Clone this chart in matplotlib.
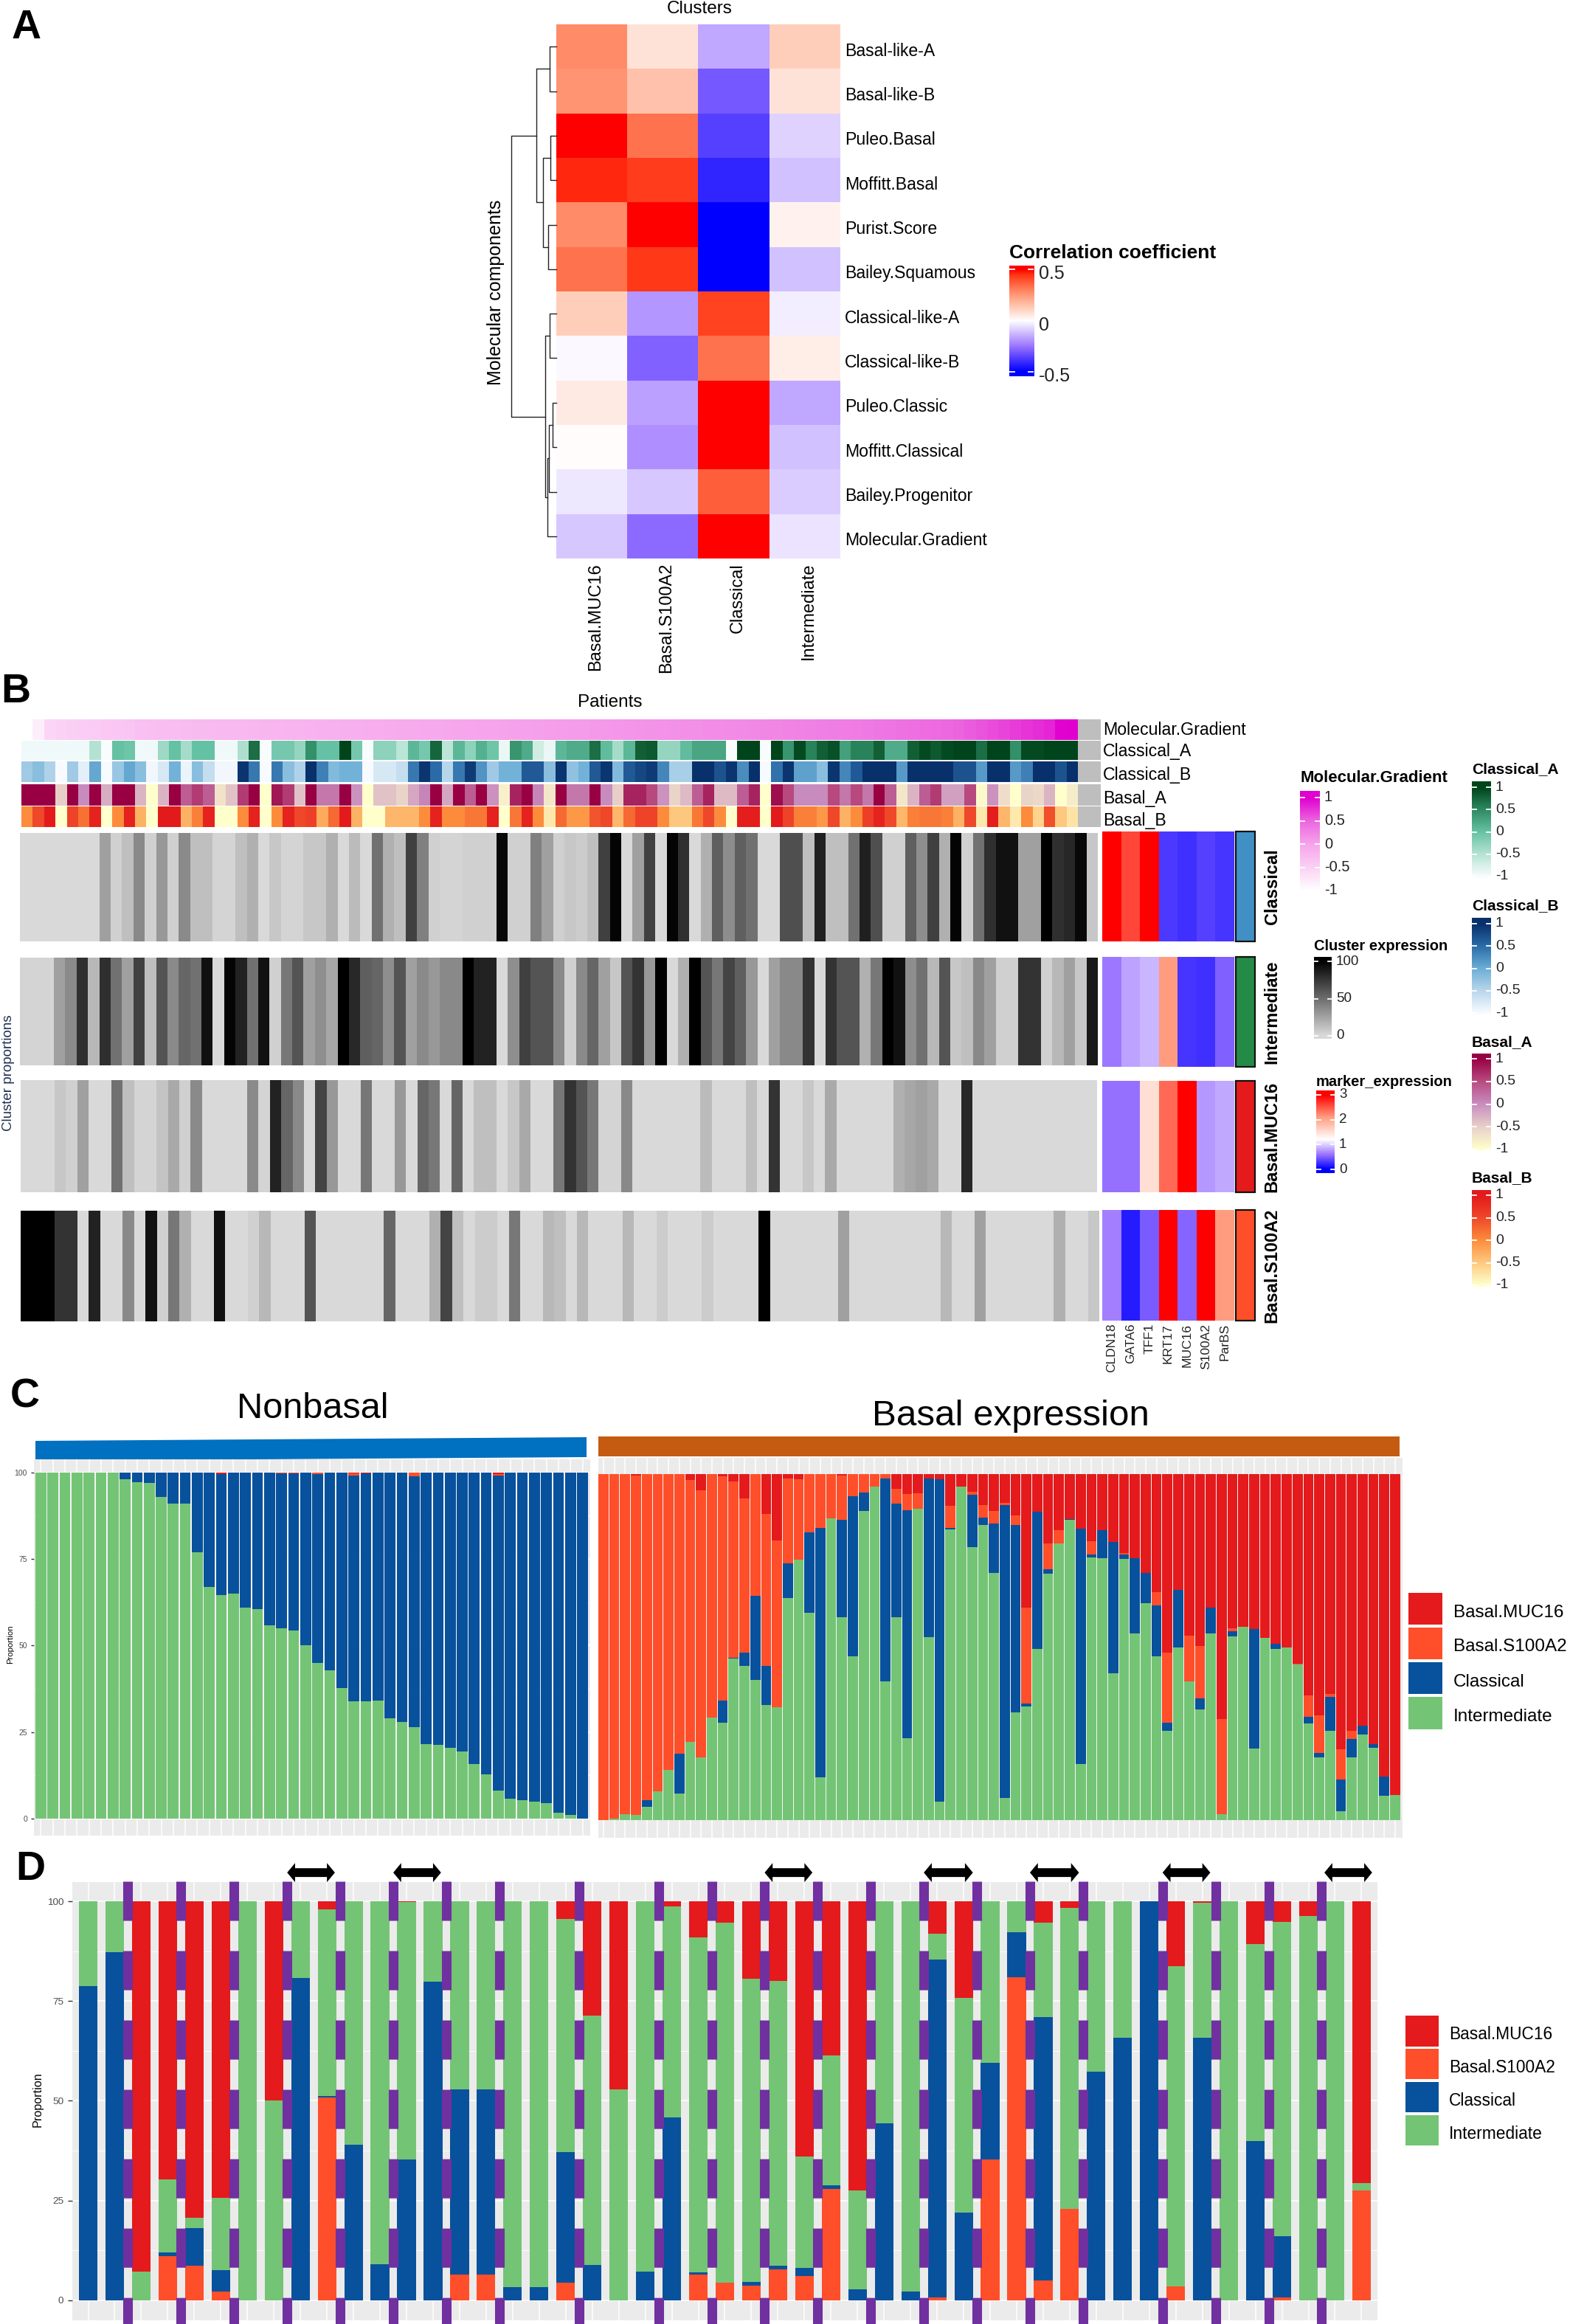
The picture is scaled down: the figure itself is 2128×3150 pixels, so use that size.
import numpy as np
import matplotlib
matplotlib.use("Agg")
import matplotlib.pyplot as plt
from matplotlib.colors import LinearSegmentedColormap
from matplotlib.patches import Polygon, Rectangle

plt.rcParams["font.family"] = ["Liberation Sans", "DejaVu Sans"]
plt.rcParams["lines.scale_dashes"] = False

W, H = 2128, 3150

# ---- panel A data
modules = ["Basal-like-A", "Basal-like-B", "Puleo.Basal", "Moffitt.Basal", "Purist.Score", "Bailey.Squamous",
           "Classical-like-A", "Classical-like-B", "Puleo.Classic", "Moffitt.Classical", "Bailey.Progenitor",
           "Molecular.Gradient"]
clusters = ["Basal.MUC16", "Basal.S100A2", "Classical", "Intermediate"]
corr_muc16 = [0.28, 0.26, 0.50, 0.46, 0.28, 0.33, 0.12, -0.01, 0.05, 0.005, -0.04, -0.10]
corr_s100a2 = [0.07, 0.15, 0.33, 0.43, 0.50, 0.44, -0.19, -0.29, -0.17, -0.20, -0.10, -0.27]
corr_classical = [-0.16, -0.31, -0.36, -0.42, -0.50, -0.50, 0.42, 0.33, 0.50, 0.50, 0.37, 0.50]
corr_intermediate = [0.12, 0.07, -0.08, -0.11, 0.03, -0.11, -0.03, 0.04, -0.16, -0.11, -0.09, -0.05]
# (left node, right node, height); new nodes are numbered from 12
merges = [(0, 1, .15), (2, 3, .13), (4, 5, .18), (13, 14, .30), (12, 15, .435), (6, 7, .15), (8, 9, .08),
          (18, 10, .165), (19, 11, .20), (17, 20, .25), (16, 21, 1.0)]

# ---- panel B data
mol_gradient = [-1.00, -0.82, -0.56, -0.52, -0.50, -0.48, -0.45, -0.42, -0.40, -0.38,
                -0.33, -0.32, -0.30, -0.29, -0.28, -0.27, -0.26, -0.25, -0.24, -0.23,
                -0.22, -0.21, -0.20, -0.19, -0.18, -0.17, -0.16, -0.15, -0.14, -0.13,
                -0.12, -0.11, -0.10, -0.09, -0.08, -0.07, -0.06, -0.05, -0.04, -0.03,
                -0.02, -0.01, 0.00, 0.01, 0.02, 0.03, 0.04, 0.05, 0.06, 0.07,
                0.08, 0.09, 0.10, 0.11, 0.12, 0.13, 0.14, 0.15, 0.16, 0.17,
                0.18, 0.19, 0.20, 0.21, 0.22, 0.23, 0.24, 0.25, 0.27, 0.28,
                0.29, 0.30, 0.31, 0.32, 0.34, 0.36, 0.38, 0.40, 0.42, 0.44,
                0.46, 0.48, 0.50, 0.54, 0.58, 0.62, 0.66, 0.70, 0.74, 0.78,
                0.82, 0.98, 1.00]
classical_a = [-.95, -.95, -.95, -.95, -.95, -.95, -.5, -1, 0, -.05,
               -.95, -.95, -.35, 0, -.4, 0, 0, -.95, -.95, -.45,
               .7, -1, -.1, -.1, -.3, .45, 0, 0, 1, -.1,
               -1, -.25, -.25, -.55, .1, -.1, .75, -.55, .1, -.25,
               .15, -.05, -.9, .4, .2, -.7, -.9, .1, .2, .2,
               .7, .05, -.4, .1, .8, .85, -.3, -.3, .05, .25,
               .25, .25, -1, 1, 1, -1, 1, .4, .95, .55,
               .8, .9, .3, .55, .55, .8, .2, .2, .8, .95,
               .85, .95, 1, 1, .7, 1, 1, .45, .95, .95,
               1, 1, 1]
classical_b = [-.35, -.2, -.45, -1, -.35, -.85, .05, -1, -.3, .05,
               -.2, -.95, -.75, -.05, -.9, -.2, -.6, -.95, -.95, .95,
               .4, -1, .4, -.2, -.45, 1, .35, -.15, -.05, -.05,
               -1, -.75, -.75, -.6, .4, .95, .5, -.5, .4, .9,
               .2, -.35, -.05, -.05, .65, .65, -.2, .95, -.25, -.05,
               .65, .95, -.15, .65, .8, .9, .3, -.4, -.4, 1,
               1, .7, .95, .25, 1, -1, .45, .95, .1, .1,
               -.2, .95, .3, .65, 1, 1, 1, .15, 1, 1,
               1, 1, .7, .7, .15, 1, 1, .15, .35, 1,
               1, .7, 1]
basal_a = [1, 1, 1, -.5, 1, 0, 1, -.25, 1, 1,
           -.3, -1, -.3, 1, .35, .6, .35, -.7, -.4, .6,
           1, -1, .85, .6, -.4, 1, .15, .15, 1, -.05,
           -1, -.4, -.4, -.55, -.2, .05, 1, -.2, 1, .35,
           1, -.05, -.85, .75, 1, .05, -.75, 1, .15, .15,
           1, 0, -.5, .75, .75, .5, -.05, -.55, -.35, .35,
           .75, -.35, -.35, .35, .75, -1, .9, .5, 0, 0,
           0, .5, .15, .5, .15, 1, .35, -.75, -.3, .35,
           .6, -.15, -.15, .5, -.95, -.05, -.65, -1, -.55, -.6,
           -.3, -1, -.8]
basal_b = [0, .5, 1, -1, .55, .2, .9, -1, 0, .9,
           -.3, -1, 1, 1, -.3, .1, .9, -1, -1, 0,
           .9, -1, 0, .9, .5, .6, -.25, .25, 1, -.3,
           -1, -1, -.35, -.35, -.35, 0, .9, 0, 0, .15,
           .15, .9, -1, .15, .9, 0, -.8, .25, -.1, -.1,
           .4, .5, -.35, .25, .55, .55, 0, -.5, -.5, .15,
           .5, 0, -1, .95, .95, -1, 1, .55, .1, .1,
           -.1, .5, -.3, 0, .6, .9, .5, -.35, .1, .15,
           .15, .1, -.3, .5, -.8, .95, -.35, -.8, 0, -.6,
           .45, -.5, -.75]
annotation_names = ["Molecular.Gradient", "Classical_A", "Classical_B", "Basal_A", "Basal_B"]

expr_classical = [0, 0, 0, 0, 0, 0, 0, 26, 4, 12,
                  37, 4, 30, 4, 36, 12, 12, 2, 2, 12,
                  19, 0, 8, 2, 2, 8, 8, 19, 0, 14,
                  0, 48, 19, 12, 70, 41, 4, 2, 2, 4,
                  4, 4, 96, 4, 4, 41, 26, 4, 8, 6,
                  12, 70, 98, 0, 26, 70, 0, 98, 78, 0,
                  19, 56, 35, 56, 48, 0, 0, 63, 63, 12,
                  85, 12, 12, 48, 85, 63, 4, 4, 56, 34,
                  70, 19, 98, 4, 48, 78, 92, 92, 26, 26,
                  100, 78, 82, 96, 8]
expr_intermediate = [2, 2, 2, 26, 36, 78, 15, 78, 48, 26,
                     70, 12, 61, 36, 53, 48, 92, 0, 98, 84,
                     48, 92, 4, 45, 61, 26, 34, 23, 100, 81,
                     56, 53, 34, 61, 26, 36, 30, 37, 37, 100,
                     84, 84, 0, 34, 70, 61, 61, 37, 4, 36,
                     53, 26, 8, 61, 76, 30, 100, 0, 19, 100,
                     61, 45, 68, 56, 30, 0, 26, 37, 37, 76,
                     0, 76, 61, 61, 19, 45, 100, 92, 34, 48,
                     15, 61, 8, 12, 37, 26, 4, 4, 76, 76,
                     4, 15, 26, 8, 88]
expr_muc16 = [0, 0, 0, 8, 4, 26, 0, 0, 48, 12,
              2, 2, 10, 22, 4, 36, 0, 0, 0, 0,
              36, 2, 84, 53, 37, 0, 68, 30, 0, 0,
              45, 0, 0, 30, 0, 53, 45, 0, 53, 0,
              12, 12, 0, 8, 22, 0, 0, 45, 76, 61,
              45, 2, 2, 37, 0, 0, 0, 0, 0, 0,
              14, 0, 0, 0, 12, 0, 76, 0, 0, 8,
              0, 22, 0, 0, 0, 0, 0, 19, 23, 26,
              22, 0, 0, 81, 0, 0, 0, 0, 0, 0,
              0, 0, 0, 0, 0]
expr_s100a2 = [100, 100, 100, 76, 76, 0, 84, 0, 0, 37,
               0, 92, 4, 45, 19, 0, 0, 92, 0, 0,
               4, 15, 0, 0, 0, 61, 0, 0, 0, 0,
               0, 0, 53, 0, 0, 0, 19, 68, 12, 0,
               6, 6, 0, 45, 0, 0, 15, 12, 0, 15,
               0, 0, 0, 15, 0, 0, 6, 0, 0, 0,
               6, 0, 0, 0, 0, 100, 0, 0, 0, 0,
               0, 0, 26, 0, 0, 0, 0, 0, 0, 0,
               0, 15, 0, 0, 26, 0, 0, 0, 0, 0,
               0, 19, 0, 0, 8]

markers = ["CLDN18", "GATA6", "TFF1", "KRT17", "MUC16", "S100A2", "ParBS"]
marker_classical = [3, 2.6, 3, .3, .25, .33, .27]
marker_intermediate = [.62, .8, .88, 2.1, .28, .25, .5]
marker_muc16 = [.58, .58, 1.5, 2.4, 3, .75, .83]
marker_s100a2 = [.65, .15, .48, 3, .52, 3, 2.1]

# ---- panel C data, non basal tumours
nb_intermediate = [100, 100, 100, 100, 100, 100, 100, 98, 97.2, 97,
                   93, 91, 91, 77, 67, 64.5, 65, 61, 60.5, 55.8,
                   55, 54.4, 50, 45, 42.9, 37.7, 33.9, 33.8, 34.2, 29,
                   28, 26.4, 21.6, 21.3, 20.4, 19.3, 15.7, 12.8, 8, 5.8,
                   5.3, 5, 4.5, 1.7, 1.1, 0]
nb_classical = [0, 0, 0, 0, 0, 0, 0, 2, 2.8, 3,
                7, 9, 9, 23, 33, 35, 35, 39, 39.5, 44.2,
                44.7, 45.4, 50, 54.5, 57.1, 62.3, 65.2, 65.9, 65.8, 71,
                72, 72.5, 78.4, 78.7, 79.6, 80.7, 84.3, 87.2, 91.2, 94.2,
                94.7, 95, 95.5, 98.3, 98.9, 100]
nb_s100a2 = [0, 0, 0, 0, 0, 0, 0, 0, 0, 0,
             0, 0, 0, 0, 0, 0, 0, 0, 0, 0,
             .3, .2, 0, .4, 0, 0, .6, 0, 0, 0,
             0, 1.1, 0, 0, 0, 0, 0, 0, .3, 0,
             0, 0, 0, 0, 0, 0]
nb_muc16 = [0, 0, 0, 0, 0, 0, 0, 0, 0, 0,
            0, 0, 0, 0, 0, .5, 0, 0, 0, 0,
            0, 0, 0, .1, 0, 0, .3, .3, 0, 0,
            0, 0, 0, 0, 0, 0, 0, 0, .5, 0,
            0, 0, 0, 0, 0, 0]

# ---- panel C data, basal tumours
ba_intermediate = [0, .4, 1.7, 1.5, 3.9, 8.4, 14.4, 7.6, 22.5, 18.2,
                   29.6, 28.2, 46.7, 44.5, 40.5, 33.2, 32.7, 64.1, 75.3, 60,
                   12.4, 87.2, 58.6, 47.4, 89.4, 96.3, 40, 58.6, 23.6, 90,
                   52.8, 5.4, 84, 96.3, 78.8, 85.3, 71.5, 6.4, 31.2, 32.9,
                   49.4, 71.3, 80, 86.8, 16.2, 76, 75.8, 42.4, 75.5, 53.9,
                   62.6, 47.4, 25.8, 50, 40, 31.9, 53.9, 1.7, 53.1, 55.9,
                   20.7, 52.7, 49.4, 50, 45, 28, 18.1, 25.8, 2.5, 18.2,
                   24.7, 21, 7, 7.2]
ba_classical = [0, 0, 0, 0, 1.8, 0, 0, 11.5, 0, 0,
                0, 6.3, .3, 3.8, 24.4, 11.4, 0, 10.1, 0, 23.2,
                72.1, 0, 28.2, 46.1, 5.2, 0, 58.7, 32.8, 66, 0,
                46, 93.1, .5, 0, 15.2, 2.2, 14.2, 84.6, 54.1, .8,
                39.8, 1.2, 0, .3, 68, .7, 8.1, 38, 1.2, 21.7,
                8.9, 14.6, 2.3, 16.5, 0, 3.3, 7.6, 0, 1.4, 0,
                34.6, 0, 1.6, 0, 0, 1.9, 1.3, 9.9, 9.3, 5.2,
                2.6, 1, 5.5, 0]
ba_s100a2 = [100, 99.6, 98.3, 98.1, 94.3, 91.6, 85.6, 80.9, 75.8, 77.1,
             70.4, 64.9, 50.8, 44.7, 35.1, 43.9, 48.2, 24.6, 23.2, 16.8,
             15.5, 12.8, 12.8, 6.5, 5.4, 3.7, 1.3, 4.3, 4.6, 4.4,
             0, 0, 6.4, 0, .9, 3.6, 3.6, .6, 2.8, 27.7,
             0, 7.5, 3.7, 0, 0, 3.8, 0, 0, .5, 0,
             0, 3.9, 20.3, 0, 13.3, 15.1, 0, 27.6, .9, 0,
             0, 0, 0, 0, .3, 6.1, 10.9, .7, 8.7, 2.4,
             0, 0, 0, 0]
ba_muc16 = [0, 0, 0, .4, 0, 0, 0, 0, 1.7, 4.7,
            0, .6, 2.2, 7, 0, 11.5, 19.1, 1.2, 1.5, 0,
            0, 0, .4, 0, 0, 0, 0, 4.3, 5.8, 5.6,
            1.2, 1.5, 9.1, 3.7, 5.1, 8.9, 10.7, 8.4, 11.9, 38.6,
            10.8, 20, 16.3, 12.9, 15.8, 19.5, 16.1, 19.6, 22.8, 24.4,
            28.5, 34.1, 51.6, 33.5, 46.7, 49.7, 38.5, 70.7, 44.6, 44.1,
            44.7, 47.3, 49, 50, 54.7, 64, 69.7, 63.6, 79.5, 74.2,
            72.7, 78, 87.5, 92.8]

# ---- panel D data
d_s100a2 = [0, 0, 0, 11, 8.7, 2.1, 0, 0, 0, 50.8,
            0, 0, 0, 0, 6.5, 6.5, 0, 0, 4.3, 0,
            0, 0, 0, 6.5, 4.4, 3.6, 7.7, 6.1, 27.8, 0,
            0, 0, .6, 0, 35.2, 81, 4.9, 22.9, 0, 0,
            0, 3.5, 0, 0, 0, .7, 0, 0, 27.6]
d_classical = [78.8, 87.2, 0, 1, 9.3, 5.5, 0, 0, 80.8, .4,
               39, 9.1, 35.2, 79.8, 46.3, 46.3, 3.2, 3.2, 32.8, 8.9,
               0, 7.1, 45.8, .4, 0, .9, 1, 2, 1, 2.7,
               44.3, 2.1, 84.8, 22, 24.4, 11.3, 66, 0, 57.2, 65.8,
               100, 0, 65.8, 0, 39.9, 15.3, 0, 0, 0]
d_intermediate = [21.2, 12.8, 7.1, 18.3, 2.6, 18.1, 100, 50, 19.2, 46.7,
                  61, 90.9, 64.6, 20.2, 47.2, 47.2, 96.8, 96.8, 58.5, 62.5,
                  52.8, 92.9, 52.9, 84.1, 90.2, 76.1, 71.4, 27.9, 32.6, 24.8,
                  55.7, 97.9, 6.5, 53.8, 40.4, 7.7, 23.7, 75.5, 42.8, 34.2,
                  0, 80.3, 33.8, 100, 49.3, 78.9, 96.3, 100, 1.8]
d_muc16 = [0, 0, 92.9, 69.7, 79.4, 74.3, 0, 50, 0, 2.1,
           0, 0, .2, 0, 0, 0, 0, 0, 4.4, 28.6,
           47.2, 0, 1.3, 9, 5.4, 19.4, 19.9, 64, 38.6, 72.5,
           0, 0, 8.1, 24.2, 0, 0, 5.4, 1.6, 0, 0,
           0, 16.2, .4, 0, 10.8, 5.1, 3.7, 0, 70.6]
# tumours from one patient, dashed separators and double arrows
pair_lines = [1.5, 3.5, 5.5, 7.5, 9.5, 11.5, 13.5, 15.5, 18.5, 21.5, 23.5,
              25.5, 27.5, 29.5, 31.5, 33.5, 35.5, 37.5, 40.5, 42.5, 44.5, 46.5]
arrow_spans = [(7.5, 9.3), (11.5, 13.3), (25.5, 27.3), (31.5, 33.35), (35.5, 37.35), (40.5, 42.3), (46.6, 48.4)]

COL_MUC16 = "#e41a1c"
COL_S100A2 = "#ff4f2a"
COL_CLASSICAL = "#08519c"
COL_INTERMEDIATE = "#74c476"


def ramp(*cols):
    return LinearSegmentedColormap.from_list("r", cols, N=256)


corr_cmap = LinearSegmentedColormap.from_list(
    "c", [(0, "#0000ff"), (.25, "#9c75ff"), (.5, "#ffffff"), (.6, "#ffd6c6"), (.75, "#ff9a78"),
          (.85, "#ff6a45"), (.95, "#ff3414"), (1, "#ff0000")], N=256)
marker_cmap = LinearSegmentedColormap.from_list(
    "m", [(0, "#0000ff"), (.2, "#9c75ff"), (.4, "#ffffff"), (.7, "#ff9e81"), (1, "#ff0000")], N=256)
gray_cmap = ramp("#d9d9d9", "#000000")
annot_cmaps = [ramp("#ffffff", "#fbd0f5", "#f6a4ec", "#ec66df", "#e000d0"),
               ramp("#f7fcfd", "#b5e3d3", "#66c2a4", "#2e8b62", "#00441b"),
               ramp("#f7fbff", "#b8d6ec", "#6baed6", "#2b6ca8", "#08306b"),
               ramp("#ffffcc", "#e8cfc8", "#c88cbf", "#b84a80", "#980043"),
               ramp("#ffffcc", "#fec97f", "#fd8d3c", "#f0482a", "#e31a1c")]

fig = plt.figure(figsize=(W / 100, H / 100), dpi=100)
# overlay in pixel coordinates for labels and strips
bg = fig.add_axes([0, 0, 1, 1])
bg.set_xlim(0, W)
bg.set_ylim(H, 0)
bg.axis("off")


def px_axes(x0, y0, x1, y1):
    return fig.add_axes([x0 / W, 1 - y1 / H, (x1 - x0) / W, (y1 - y0) / H])


def heat(box, values, cmap, vmin, vmax):
    ax = px_axes(*box)
    ax.imshow(np.atleast_2d(values), aspect="auto", cmap=cmap, vmin=vmin, vmax=vmax, interpolation="nearest")
    ax.axis("off")
    return ax


def legend_bar(x0, x1, y_top, y_bot, y_hi, y_lo, v_hi, v_lo, cmap, title, title_y, ticks, fs, label_x, dy=0, title_fs=None):
    # y_hi / y_lo are the pixel rows of the top and bottom tick values
    to_val = lambda y: v_lo + (y_lo - y) / (y_lo - y_hi) * (v_hi - v_lo)
    ax = px_axes(x0, y_top, x1, y_bot)
    grad = np.linspace(to_val(y_top), to_val(y_bot), 200).reshape(-1, 1)
    ax.imshow(grad, aspect="auto", cmap=cmap, vmin=v_lo, vmax=v_hi, extent=[0, 1, to_val(y_bot), to_val(y_top)])
    for t, _ in ticks:
        ax.plot([0, .22], [t, t], color="white", lw=1.3)
        ax.plot([.78, 1], [t, t], color="white", lw=1.3)
    ax.set_xlim(0, 1)
    ax.set_ylim(to_val(y_bot), to_val(y_top))
    ax.axis("off")
    for t, lab in ticks:
        y = y_hi + (v_hi - t) / (v_hi - v_lo) * (y_lo - y_hi)
        bg.text(label_x, y + dy, lab, fontsize=fs, va="center", ha="left", color="#222222")
    bg.text(x0, title_y, title, fontsize=title_fs or fs + 1, fontweight="bold", va="center", ha="left")


def panel_axes(box, xlim, ylim, n):
    ax = px_axes(*box)
    ax.set_facecolor("#ebebeb")
    ax.set_xlim(*xlim)
    ax.set_ylim(*ylim)
    for s in ax.spines.values():
        s.set_visible(False)
    ax.set_xticks(range(n))
    ax.set_xticklabels([])
    ax.tick_params(axis="x", length=0)
    ax.grid(True, color="white", lw=1.1)
    ax.set_axisbelow(True)
    return ax


def y_ticks(ax, fs, tlen):
    ax.set_yticks([0, 25, 50, 75, 100])
    ax.set_yticks([12.5, 37.5, 62.5, 87.5], minor=True)
    ax.tick_params(axis="y", which="major", labelsize=fs, labelcolor="#4d4d4d", color="#333333", length=tlen, width=1)
    ax.tick_params(axis="y", which="minor", length=0)
    ax.grid(True, which="minor", axis="y", color="white", lw=.6)


def stack(ax, series, colors, width):
    bottom = np.zeros(len(series[0]))
    for vals, col in zip(series, colors):
        ax.bar(range(len(vals)), vals, bottom=bottom, width=width, color=col, linewidth=0)
        bottom = bottom + np.array(vals)


def gap_lines(ax, n):
    # the slits between bars read almost white
    ax.vlines(np.arange(n - 1) + .5, 0, 100, color="#f6f6f6", lw=1.3, zorder=1)


def legend_c(x0, x1, rows, labels, colors, fs, label_x):
    for (y0, y1), lab, col in zip(rows, labels, colors):
        bg.add_patch(Rectangle((x0, y0), x1 - x0, y1 - y0, facecolor=col, edgecolor="none"))
        bg.text(label_x, (y0 + y1) / 2 + 5, lab, fontsize=fs, va="center", ha="left")


# panel letters
for letter, x, y in [("A", 16, 38), ("B", 1, 938), ("C", 14, 1893), ("D", 21, 2534)]:
    bg.text(x, y, letter, fontsize=40, fontweight="bold", va="center", ha="left")

# ------------------ panel A
corr = np.array([corr_muc16, corr_s100a2, corr_classical, corr_intermediate]).T
heat((754, 33, 1139, 757), corr, corr_cmap, -.5, .5)
bg.text(948, 12, "Clusters", fontsize=17.5, ha="center", va="center")
row_h = (757 - 33) / 12
col_w = (1139 - 754) / 4
for i, name in enumerate(modules):
    bg.text(1145, 33 + row_h * (i + .5) + 6, name, fontsize=16.6, va="center", ha="left")
for j, name in enumerate(clusters):
    bg.text(754 + col_w * (j + .5) + 5, 763, name, fontsize=17, rotation=90, va="top", ha="center")
bg.text(672, 396, "Molecular components", fontsize=18, rotation=90, va="center", ha="center")

# dendrogram
dend = px_axes(693, 33, 754, 757)
dend.set_xlim(1, 0)
dend.set_ylim(12, 0)
dend.axis("off")
nodes = {i: (i + .5, 0) for i in range(12)}
for k, (a, b, h) in enumerate(merges):
    ya, ha = nodes[a]
    yb, hb = nodes[b]
    dend.plot([ha, h, h, hb], [ya, ya, yb, yb], color="#222222", lw=1, clip_on=False)
    nodes[12 + k] = ((ya + yb) / 2, h)

legend_bar(1368, 1401, 360, 510, 365, 504, .5, -.5, corr_cmap, "Correlation coefficient", 343,
           [(.5, "0.5"), (0, "0"), (-.5, "-0.5")], 18, 1408, dy=6, title_fs=19)

# ------------------ panel B
bg.text(827, 952, "Patients", fontsize=17.5, ha="center", va="center")
bg.text(12, 1454, "Cluster proportions", fontsize=13.5, rotation=90, ha="center", va="center", color="#1f2f50")
annots = [mol_gradient, classical_a, classical_b, basal_a, basal_b]
annot_rows = [(975, 1003, 990), (1004, 1030, 1019), (1032, 1060, 1051), (1063, 1092, 1082), (1093, 1121, 1112)]
for vals, cmap, (y0, y1, ly), name in zip(annots, annot_cmaps, annot_rows, annotation_names):
    cm = cmap.copy()
    cm.set_bad("#bebebe")
    heat((28.7, y0, 1491, y1), list(vals) + [np.nan, np.nan], cm, -1, 1)
    bg.text(1495, ly, name, fontsize=16.7, va="center", ha="left")

gray_rows = [(expr_classical, (27, 1129, 1488, 1276)), (expr_intermediate, (27, 1298, 1488, 1444)),
             (expr_muc16, (28, 1464, 1487, 1616)), (expr_s100a2, (28, 1641, 1490, 1791))]
for vals, box in gray_rows:
    heat(box, vals, gray_cmap, 0, 100)

marker_rows = [(marker_classical, (1127, 1276), "#4190c5", "Classical"),
               (marker_intermediate, (1297, 1446), "#238b45", "Intermediate"),
               (marker_muc16, (1465, 1616), COL_MUC16, "Basal.MUC16"),
               (marker_s100a2, (1640, 1790), COL_S100A2, "Basal.S100A2")]
for vals, (y0, y1), col, name in marker_rows:
    heat((1494, y0, 1673, y1), vals, marker_cmap, 0, 3)
    bg.add_patch(Rectangle((1675, y0), 26, y1 - y0, facecolor=col, edgecolor="#111111", lw=1.6))
    bg.text(1724, (y0 + y1) / 2, name, fontsize=17, fontweight="bold", rotation=90, ha="center", va="center")
for j, name in enumerate(markers):
    bg.text(1494 + (j + .5) * 179 / 7, 1794, name, fontsize=12.5, rotation=90, ha="center", va="top", color="#222222")

ab_ticks = [(1, "1"), (.5, "0.5"), (0, "0"), (-.5, "-0.5"), (-1, "-1")]
legend_bar(1762, 1789, 1072, 1207, 1081, 1207, 1, -1, annot_cmaps[0], "Molecular.Gradient", 1055, ab_ticks, 14.5, 1795, title_fs=16)
legend_bar(1995, 2021, 1059, 1190, 1067, 1188, 1, -1, annot_cmaps[1], "Classical_A", 1043, ab_ticks, 14, 2027, title_fs=15)
legend_bar(1995, 2021, 1244, 1375, 1252, 1373, 1, -1, annot_cmaps[2], "Classical_B", 1228, ab_ticks, 14, 2027, title_fs=15)
legend_bar(1995, 2021, 1428, 1559, 1435, 1558, 1, -1, annot_cmaps[3], "Basal_A", 1413, ab_ticks, 14, 2027, title_fs=15)
legend_bar(1995, 2021, 1613, 1744, 1620, 1742, 1, -1, annot_cmaps[4], "Basal_B", 1597, ab_ticks, 14, 2027, title_fs=15)
legend_bar(1781, 1805, 1297, 1408, 1303, 1404, 100, 0, gray_cmap, "Cluster expression", 1282,
           [(100, "100"), (50, "50"), (0, "0")], 13.5, 1811, title_fs=14.5)
legend_bar(1784, 1809, 1478, 1590, 1484, 1585, 3, 0, marker_cmap, "marker_expression", 1467,
           [(3, "3"), (2, "2"), (1, "1"), (0, "0")], 13.5, 1815, title_fs=14.5)

# ------------------ panel C
bg.text(424, 1910, "Nonbasal", fontsize=35, ha="center", va="center")
bg.text(1370, 1919, "Basal expression", fontsize=35.5, ha="center", va="center")
bg.add_patch(Polygon([(48, 1953), (795, 1948), (795, 1975), (48, 1980)], facecolor="#0070c0", edgecolor="none"))
bg.add_patch(Rectangle((811, 1947), 1086, 27, facecolor="#c55a11", edgecolor="none"))

ax_n = panel_axes((46, 1978, 800, 2488), (-.57, 45.63), (-4.9, 103.8), 46)
gap_lines(ax_n, 46)
stack(ax_n, [nb_intermediate, nb_classical, nb_s100a2, nb_muc16],
      [COL_INTERMEDIATE, COL_CLASSICAL, COL_S100A2, COL_MUC16], .9)
y_ticks(ax_n, 7.5, 3)
bg.text(14, 2229, "Proportion", fontsize=8.2, rotation=90, ha="center", va="center")

ax_b = panel_axes((811, 1975.5, 1901, 2490.6), (-.47, 73.68), (-5.03, 104.8), 74)
gap_lines(ax_b, 74)
stack(ax_b, [ba_intermediate, ba_classical, ba_s100a2, ba_muc16],
      [COL_INTERMEDIATE, COL_CLASSICAL, COL_S100A2, COL_MUC16], .93)
ax_b.set_yticks([])

leg_names = ["Basal.MUC16", "Basal.S100A2", "Classical", "Intermediate"]
leg_cols = [COL_MUC16, COL_S100A2, COL_CLASSICAL, COL_INTERMEDIATE]
legend_c(1908.6, 1955, [(2159, 2202), (2206, 2249), (2253, 2296), (2300, 2344)], leg_names, leg_cols, 17.5, 1970)

# ------------------ panel D
ax_d = panel_axes((97.6, 2550.6, 1867, 3144.7), (-.61, 48.6), (-4.99, 104.9), 49)
stack(ax_d, [d_s100a2, d_classical, d_intermediate, d_muc16],
      [COL_S100A2, COL_CLASSICAL, COL_INTERMEDIATE, COL_MUC16], .7)
y_ticks(ax_d, 9.7, 4.5)
bg.text(51, 2846, "Proportion", fontsize=11.6, rotation=90, ha="center", va="center")

for x in pair_lines:
    ax_d.plot([x, x], [105.1, -6.1], color="#7030a0", lw=9.4, linestyle=(0, (38.2, 29.5)),
              dash_capstyle="butt", clip_on=False, zorder=5)
for x0, x1 in arrow_spans:
    y, body, head, hl = 107.2, 1.1, 2.4, .3
    ax_d.add_patch(Polygon([(x0, y), (x0 + hl, y + head), (x0 + hl, y + body), (x1 - hl, y + body),
                            (x1 - hl, y + head), (x1, y), (x1 - hl, y - head), (x1 - hl, y - body),
                            (x0 + hl, y - body), (x0 + hl, y - head)],
                           facecolor="black", edgecolor="none", clip_on=False, zorder=6))

legend_c(1905, 1950, [(2732, 2773.6), (2777, 2818), (2822, 2863), (2866.5, 2908)], leg_names, leg_cols, 16.4, 1964)

fig.savefig("out.png", dpi=100, facecolor="white")
